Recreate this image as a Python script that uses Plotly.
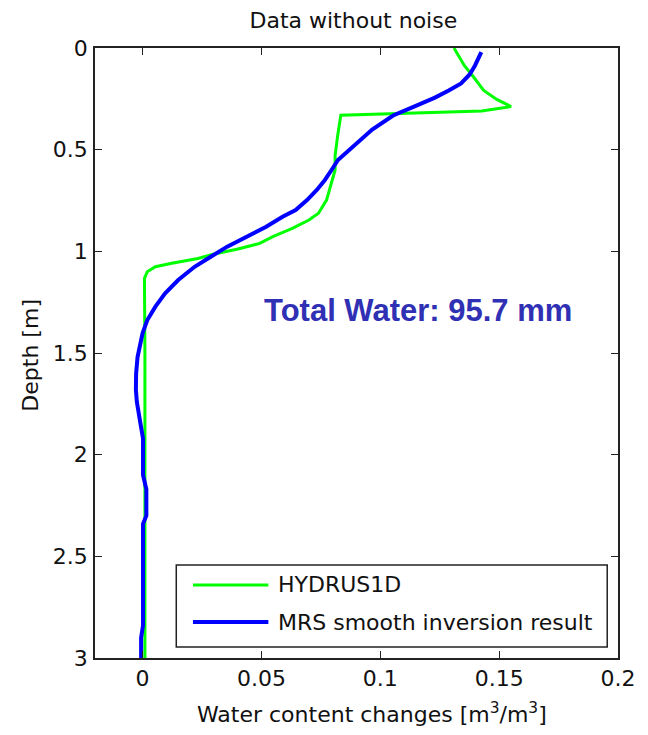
import plotly.graph_objects as go

# HYDRUS1D simulated water content change profile
hydrus_depth = [0.0, 0.087, 0.139, 0.209, 0.253, 0.288, 0.31, 0.318, 0.326, 0.331,
                0.437, 0.53, 0.60, 0.666, 0.748, 0.813, 0.846, 0.887, 0.928, 0.961,
                0.99, 1.013, 1.035, 1.059, 1.076, 1.10, 1.133, 1.5, 2.0, 2.5, 3.0]
hydrus_theta = [0.131, 0.1354, 0.139, 0.1435, 0.149, 0.155, 0.1427, 0.117, 0.0922, 0.0834,
                0.082, 0.081, 0.081, 0.0795, 0.0774, 0.074, 0.070, 0.063, 0.0548, 0.0493,
                0.0397, 0.0301, 0.0233, 0.0123, 0.0054, 0.002, 0.0008, 0.001, 0.001, 0.001, 0.001]

# MRS smooth inversion result
mrs_depth = [0.02, 0.034, 0.087, 0.13, 0.174, 0.209, 0.244, 0.288, 0.332, 0.401,
             0.489, 0.551, 0.60, 0.649, 0.698, 0.748, 0.797, 0.830, 0.879, 0.928,
             0.977, 1.027, 1.076, 1.141, 1.207, 1.272, 1.338, 1.403, 1.469, 1.52,
             1.60, 1.68, 1.74, 1.80, 1.86, 1.92, 2.10, 2.17, 2.22, 2.30, 2.34,
             2.60, 2.84, 2.90, 3.0]
mrs_theta = [0.1425, 0.142, 0.1398, 0.1376, 0.134, 0.1288, 0.123, 0.1142, 0.1054, 0.0966,
             0.0878, 0.0822, 0.0795, 0.0767, 0.0733, 0.0692, 0.0644, 0.0589, 0.052, 0.0438,
             0.0356, 0.0287, 0.0219, 0.015, 0.0095, 0.0054, 0.002, 0.0, -0.0014, -0.0021,
             -0.0027, -0.0028, -0.0024, -0.0017, -0.0007, 0.0002, 0.0002, 0.0016, 0.0016, 0.0016, 0.0002,
             0.0002, 0.0002, -0.0006, -0.0006]

x_ticks = [0, 0.05, 0.1, 0.15, 0.2]
x_tick_text = ["0", "0.05", "0.1", "0.15", "0.2"]
y_ticks = [0, 0.5, 1, 1.5, 2, 2.5, 3]
y_tick_text = ["0", "0.5", "1", "1.5", "2", "2.5", "3"]

total_water_mm = 95.7

FONT = "DejaVu Sans"
TEXT_COLOR = "#111111"
AXIS_COLOR = "#222222"
series = [
    ("HYDRUS1D", hydrus_theta, hydrus_depth, "#00ff00", 3),
    ("MRS smooth inversion result", mrs_theta, mrs_depth, "#0000ff", 4),
]

fig = go.Figure()
for name, xs, ys, color, width in series:
    fig.add_trace(go.Scatter(x=xs, y=ys, mode="lines", name=name, showlegend=False,
                             line=dict(color=color, width=width)))

axis_common = dict(
    showline=True, linecolor=AXIS_COLOR, linewidth=1.5, mirror="ticks",
    ticks="inside", ticklen=7, tickwidth=1.2, tickcolor=AXIS_COLOR,
    showgrid=False, zeroline=False,
    tickfont=dict(family=FONT, size=22, color=TEXT_COLOR),
)

fig.update_xaxes(range=[-0.02, 0.2], tickvals=x_ticks, ticktext=x_tick_text,
                 ticklabelstandoff=0, **axis_common)
fig.update_yaxes(range=[3, 0], tickvals=y_ticks, ticktext=y_tick_text,
                 ticklabelstandoff=1, **axis_common)

fig.add_annotation(text=f"Total Water: {total_water_mm} mm", x=0.116, y=1.292,
                   xref="x", yref="y", showarrow=False, xanchor="center", yanchor="middle",
                   font=dict(family="Liberation Sans", size=31, color="#3030b4",
                             weight="bold"))

fig.add_annotation(text="Water content changes [m<sup>3</sup>/m<sup>3</sup>]",
                   x=0.529, y=-0.0902, xref="paper", yref="paper", showarrow=False,
                   xanchor="center", yanchor="middle",
                   font=dict(family=FONT, size=22, color=TEXT_COLOR))
fig.add_annotation(text="Depth [m]", x=-0.125, y=0.4967, xref="paper", yref="paper",
                   showarrow=False, textangle=-90, xanchor="center", yanchor="middle",
                   font=dict(family=FONT, size=22, color=TEXT_COLOR))

# Boxed key in the lower part of the axes
fig.add_shape(type="rect", xref="paper", yref="paper",
              x0=0.1554, x1=0.9794, y0=0.018, y1=0.1525,
              line=dict(color=AXIS_COLOR, width=1.5), fillcolor="white", layer="above")
key_rows = [0.1197, 0.059]
for (name, _, _, color, width), ky in zip(series, key_rows):
    fig.add_shape(type="line", xref="paper", yref="paper",
                  x0=0.1873, x1=0.3315, y0=ky, y1=ky,
                  line=dict(color=color, width=width), layer="above")
    fig.add_annotation(text=name, x=0.3464, y=ky, xref="paper", yref="paper",
                       showarrow=False, xanchor="left", yanchor="middle",
                       font=dict(family=FONT, size=22, color=TEXT_COLOR))

fig.update_layout(
    width=648, height=735,
    margin=dict(l=95, r=19, t=48, b=77),
    paper_bgcolor="white", plot_bgcolor="white",
    title=dict(text="Data without noise", x=0.494, xref="paper",
               y=1 - 20 / 735, yref="container", xanchor="center", yanchor="middle",
               font=dict(family=FONT, size=22, color=TEXT_COLOR)),
    showlegend=False,
)

fig.write_html("out.html")
